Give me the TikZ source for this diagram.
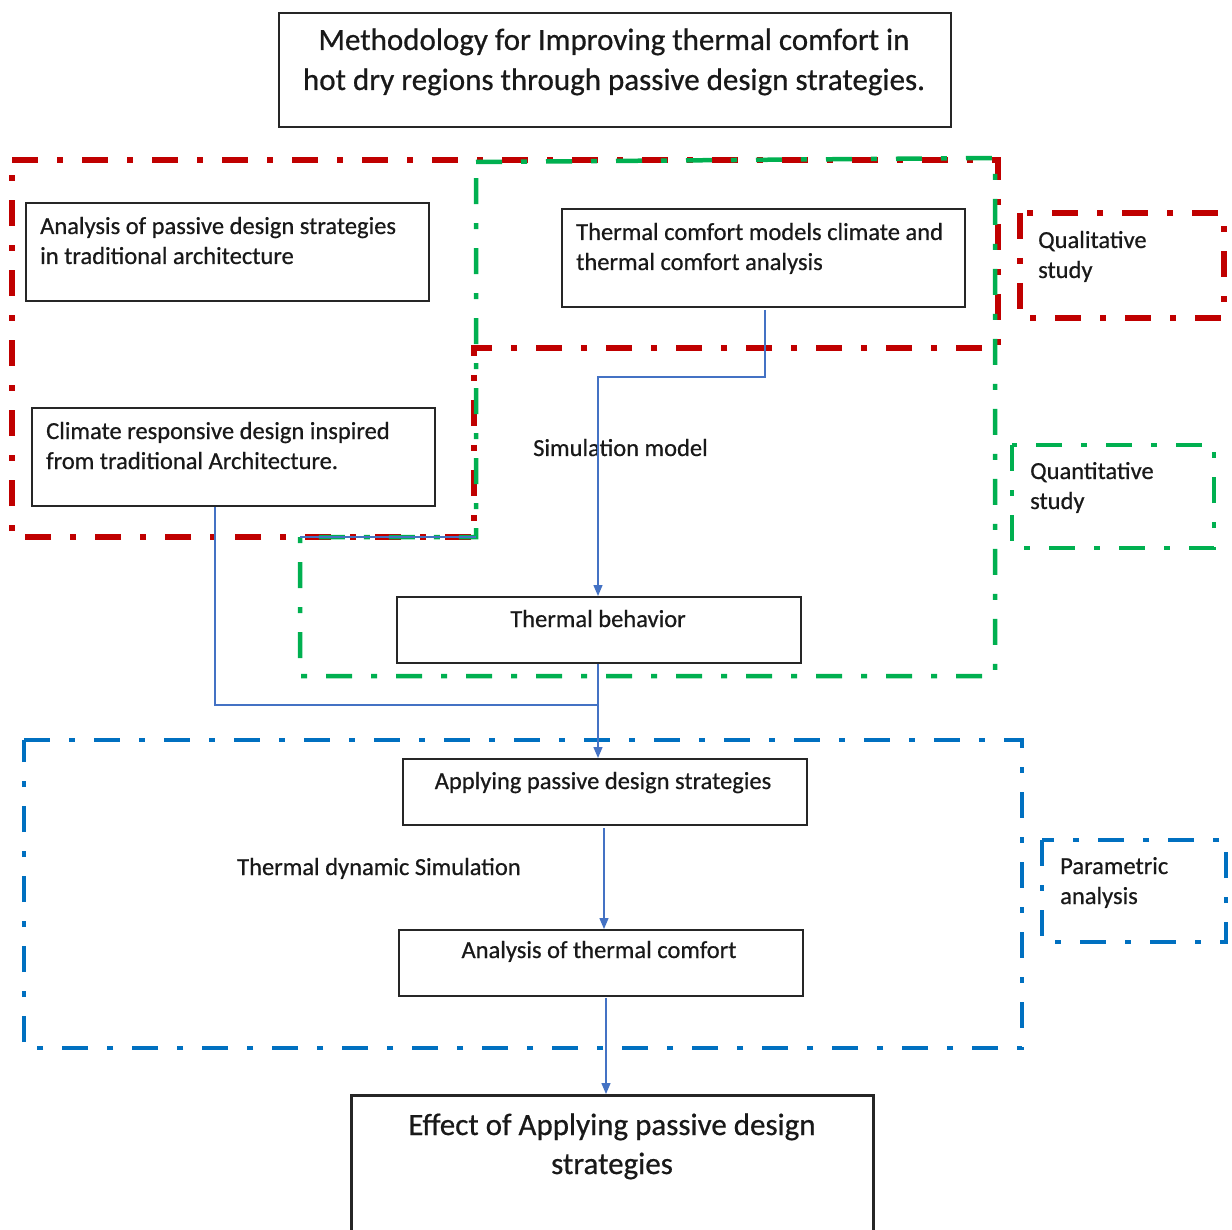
\documentclass[tikz,border=0pt]{standalone}
\usepackage{fontspec}
\setmainfont{Carlito}[FakeBold=0.6]
\usetikzlibrary{arrows.meta}
\definecolor{rdc}{HTML}{C00000}
\definecolor{grc}{HTML}{00B050}
\definecolor{blc}{HTML}{0070C0}
\definecolor{arc}{HTML}{4472C4}
\tikzset{
  boxn/.style={draw=black!85, line width=1.8pt, minimum width=#1, inner sep=0pt, anchor=north west},
  txt/.style={inner sep=0pt, anchor=base west, font=\fontsize{24.5}{30}\selectfont, text=black!90},
  txtc/.style={inner sep=0pt, anchor=base, font=\fontsize{24.5}{30}\selectfont, text=black!90},
  bigt/.style={inner sep=0pt, anchor=base, font=\fontsize{31}{40}\selectfont, text=black!90},
  dd/.style={line width=#1, dash pattern=on 26pt off 19pt on 6pt off 19pt},
  conn/.style={draw=arc, line width=1.4pt},
  arr/.style={conn, -{Triangle[length=11pt,width=9pt]}},
}
\begin{document}
\begin{tikzpicture}[x=1pt,y=-1pt]
\useasboundingbox (0,0) rectangle (1232,1230);
\fill[white] (0,0) rectangle (1232,1230);

% regions
\draw[rdc, dd=5.5pt] (12,160) -- (998,160) -- (998,348) -- (474,348) -- (474,537) -- (12,537) -- cycle;
\draw[grc, dd=4.5pt] (476,162) -- (995,158) -- (995,676) -- (300,676) -- (300,537) -- (476,537) -- cycle;
\draw[blc, dd=4.5pt] (24,740) -- (1022,740) -- (1022,1048) -- (24,1048) -- cycle;
\draw[conn] (300,537) -- (476,537);

% side labels
\draw[rdc, dd=5.5pt] (1020,213) rectangle (1224,318);
\node[txt] (q1) at (1038,248) {Qualitative};
\node[txt] (q2) at (1038,278) {study};
\draw[grc, dd=4.5pt] (1012,445) rectangle (1214,548);
\node[txt] (n1) at (1030,479) {Quantitative};
\node[txt] (n2) at (1030,509) {study};
\draw[blc, dd=4.5pt] (1042,840) rectangle (1226,942);
\node[txt] (p1) at (1060,874) {Parametric};
\node[txt] (p2) at (1060,904) {analysis};

% title
\node[boxn=672, minimum height=114] (T) at (278,12) {};
\node[bigt] (t1) at (614,50) {Methodology for Improving thermal comfort in};
\node[bigt] (t2) at (614,90) {hot dry regions through passive design strategies.};

% boxes
\node[boxn=403, minimum height=98] (A) at (25,202) {};
\node[txt] (a1) at (40,234) {Analysis of passive design strategies};
\node[txt] (a2) at (40,264) {in traditional architecture};

\node[boxn=403, minimum height=98] (B) at (31,407) {};
\node[txt] (b1) at (46,439) {Climate responsive design inspired};
\node[txt] (b2) at (46,469) {from traditional Architecture.};

\node[boxn=403, minimum height=98] (C) at (561,208) {};
\node[txt] (c1) at (576,240) {Thermal comfort models climate and};
\node[txt] (c2) at (576,270) {thermal comfort analysis};

\node[txt] (sm) at (533,456) {Simulation model};

\node[boxn=404, minimum height=66] (TB) at (396,596) {};
\node[txtc] (tb) at (598,627) {Thermal behavior};

\node[boxn=404, minimum height=66] (AP) at (402,758) {};
\node[txtc] (ap) at (603,789) {Applying passive design strategies};

\node[txt] (td) at (237,875) {Thermal dynamic Simulation};

\node[boxn=404, minimum height=66] (AT) at (398,929) {};
\node[txtc] (at) at (599,958) {Analysis of thermal comfort};

\node[boxn=522, minimum height=150, line width=3pt] (E) at (350,1094) {};
\node[bigt] (e1) at (612,1135) {Effect of Applying passive design};
\node[bigt] (e2) at (612,1174) {strategies};

% connectors
\coordinate (k1) at (765,310);
\coordinate (k2) at (765,377);
\coordinate (k3) at (598,377);
\coordinate (k4) at (215,705);
\coordinate (k5) at (598,705);
\draw[arr] (k1) -- (k2) -- (k3) -- (k3 |- TB.north);
\draw[conn] (B.south -| k4) -- (k4) -- (k5);
\draw[arr] (TB.south -| k5) -- (k5 |- AP.north);
\coordinate (k6) at (604,828);
\draw[arr] (k6) -- (k6 |- AT.north);
\coordinate (k7) at (606,998);
\draw[arr] (k7) -- (k7 |- E.north);
\end{tikzpicture}
\end{document}
